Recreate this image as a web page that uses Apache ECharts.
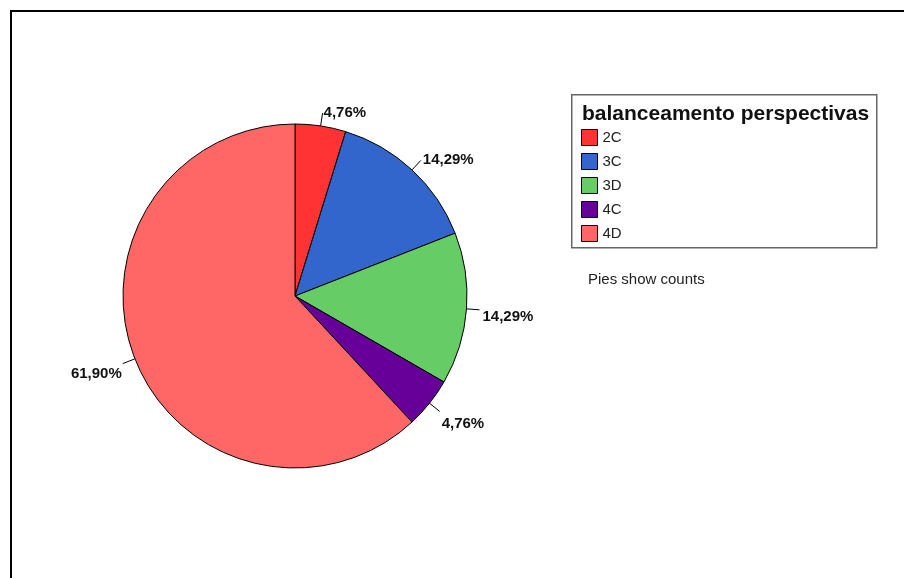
<!DOCTYPE html>
<html>
<head>
<meta charset="utf-8">
<script src="https://cdn.jsdelivr.net/npm/echarts@6/dist/echarts.min.js"></script>
<style>
  html, body { margin: 0; padding: 0; background: #fff; }
  #frame { position: absolute; left: 10px; top: 10px; width: 900px; height: 600px;
           border-top: 2px solid #000; border-left: 2px solid #000; }
  #chart { position: absolute; left: 0; top: 0; width: 904px; height: 578px; }
</style>
</head>
<body>
<div id="frame"></div>
<div id="chart"></div>
<script>
const categories = ['2C', '3C', '3D', '4C', '4D'];
const counts = [1, 3, 3, 1, 13];
const percentLabels = ['4,76%', '14,29%', '14,29%', '4,76%', '61,90%'];
const colors = ['#ff3333', '#3366cc', '#66cc66', '#660099', '#ff6666'];
const legendTitle = 'balanceamento perspectivas';
const footnote = 'Pies show counts';

// per-label text nudges (label styling only)
const labelNudges = [
  { dx: 0, dy: 0 },
  { dx: 1, dy: -1 },
  { dx: 2, dy: 7 },
  { dx: 1, dy: 13 },
  { dx: 0, dy: 10 }
];

const data = categories.map((c, i) => ({
  name: c,
  value: counts[i],
  itemStyle: { color: colors[i] },
  label: { formatter: percentLabels[i] }
}));

const chart = echarts.init(document.getElementById('chart'), null, { renderer: 'canvas' });
chart.setOption({
  backgroundColor: 'transparent',
  animation: false,
  title: [
    { text: legendTitle, left: 582, top: 104, padding: 0,
      textStyle: { fontFamily: 'Liberation Sans, Arial, sans-serif', fontSize: 21, fontWeight: 'bold', color: '#111' } },
    { text: footnote, left: 588, top: 272, padding: 0,
      textStyle: { fontFamily: 'Liberation Sans, Arial, sans-serif', fontSize: 15, fontWeight: 'normal', color: '#222' } }
  ],
  graphic: [
    { type: 'rect', left: 571, top: 94, z: -1,
      shape: { width: 305, height: 153 },
      style: { fill: '#fff', stroke: '#666', lineWidth: 1.5 } }
  ],
  legend: {
    orient: 'vertical',
    left: 581, top: 129,
    padding: 0,
    itemWidth: 16, itemHeight: 16, itemGap: 7,
    icon: 'rect',
    selectedMode: false,
    textStyle: { fontFamily: 'Liberation Sans, Arial, sans-serif', fontSize: 15, color: '#222' },
    itemStyle: { borderColor: '#000', borderWidth: 1 },
    data: categories
  },
  series: [{
    type: 'pie',
    center: [295, 296],
    radius: 172,
    startAngle: 90,
    clockwise: true,
    avoidLabelOverlap: false,
    itemStyle: { borderColor: '#000', borderWidth: 1 },
    emphasis: { disabled: true },
    label: {
      show: true,
      position: 'outside',
      distanceToLabelLine: 1,
      fontFamily: 'Liberation Sans, Arial, sans-serif',
      fontSize: 15,
      fontWeight: 'bold',
      color: '#111'
    },
    labelLine: {
      show: true,
      length: 13,
      length2: 0,
      lineStyle: { color: '#000', width: 1 }
    },
    labelLayout: function (params) {
      const n = labelNudges[params.dataIndex];
      return { dx: n.dx, dy: n.dy };
    },
    data: data
  }]
});
</script>
</body>
</html>
